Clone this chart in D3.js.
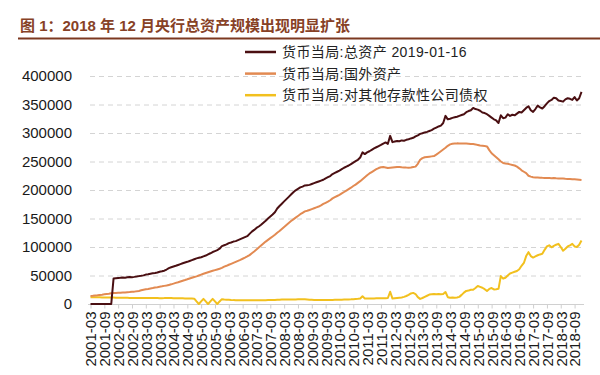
<!DOCTYPE html>
<html>
<head>
<meta charset="utf-8">
<script src="https://cdn.jsdelivr.net/npm/d3@7"></script>
<style>
  body { margin: 0; background: #fff; }
  svg { display: block; }
</style>
</head>
<body>
<svg id="chart" width="600" height="375"></svg>
<script>
var chartTitle = "图 1：2018 年 12 月央行总资产规模出现明显扩张";
var seriesNames = ["货币当局:总资产 2019-01-16", "货币当局:国外资产", "货币当局:对其他存款性公司债权"];
var colors = ["#4a0f12", "#e28a52", "#f2c01e"];

var yTicks = [0, 50000, 100000, 150000, 200000, 250000, 300000, 350000, 400000];

var tickLabels = ["2001-03", "2001-09", "2002-03", "2002-09", "2003-03", "2003-09",
  "2004-03", "2004-09", "2005-03", "2005-09", "2006-03", "2006-09",
  "2007-03", "2007-09", "2008-03", "2008-09", "2009-03", "2009-09",
  "2010-03", "2010-09", "2011-03", "2011-09", "2012-03", "2012-09",
  "2013-03", "2013-09", "2014-03", "2014-09", "2015-03", "2015-09",
  "2016-03", "2016-09", "2017-03", "2017-09", "2018-03", "2018-09"];

// monthly, 2001-03 .. 2018-12 (亿元)
var totalAssets = [
  0, 0, 0, 0, 0, 0, 0, 0, 0, 0,
  44600, 45200, 45600, 45900, 46300, 46100, 46800, 47300, 47100, 47600, 48200, 48900,
  49500, 50200, 51600, 52100, 53000, 53900, 54500, 55200, 56600, 57300, 58400, 60500,
  63000, 64500, 65800, 67000, 68500, 70000, 71500, 72800, 74000, 75500, 77000, 78500,
  80000, 81000, 82000, 83500, 85000, 87000, 89000, 91200, 92800, 94500, 97000, 101500,
  103000, 104500, 106800, 108000, 109500, 110300, 112000, 113800, 115500, 117200, 119000, 123000,
  127000, 130000, 133500, 136000, 139000, 142500, 146000, 150000, 153500, 157000, 161000, 167500,
  172000, 176000, 180000, 184000, 188000, 192000, 196000, 199500, 202000, 204500, 206000, 208000,
  208500, 209000, 210500, 212000, 213500, 215000, 216500, 218000, 220500, 222500, 224500, 228000,
  230000, 232000, 234000, 236500, 239000, 241000, 243000, 245500, 248000, 250500, 253000, 257000,
  266000, 263000, 266000, 268000, 270500, 273000, 275000, 277000, 279000, 281500, 283500, 281000,
  295000, 284000, 285000, 286000, 285500, 287000, 286500, 288000, 289000, 290500, 291500, 294000,
  296000, 298500, 299500, 301000, 302000, 303500, 305000, 307500, 309500, 311500, 313000, 317500,
  330000, 324000, 325000, 326500, 327500, 328500, 330000, 331500, 333000, 336500, 338500, 340000,
  344000, 342000, 341000, 339000, 336000, 335000, 333000, 330000, 327000, 324000, 322000, 317500,
  331000, 326000, 327000, 333000, 330000, 332000, 331000, 334000, 337000, 336000, 340000, 344000,
  347000, 340000, 337000, 342000, 348000, 345000, 343000, 347000, 352000, 356000, 358000, 362000,
  361000, 357000, 356000, 355000, 359000, 361000, 360000, 358000, 363000, 357000, 361000, 372000
];

var foreignAssets = [
  14200, 14600, 15100, 15500, 16000, 16400, 16900, 17400, 17900, 18800,
  19200, 19500, 19700, 19900, 20100, 20300, 20600, 20900, 21300, 21700, 22200, 22900,
  24000, 25000, 25800, 26500, 27300, 28000, 28800, 29500, 30300, 31000, 31800, 32500,
  33500, 34500, 35700, 37000, 38200, 39500, 40800, 42000, 43300, 44700, 46000, 47300,
  48500, 50000, 51500, 53000, 54300, 55600, 56900, 58200, 59400, 60600, 61800, 63300,
  65500, 67000, 68800, 70500, 72300, 74000, 75800, 77500, 79400, 81300, 83400, 85800,
  89000, 92000, 95500, 99000, 102500, 106000, 109500, 112500, 115500, 118500, 121500, 125000,
  128000, 131500, 135000, 138500, 142000, 145500, 148500, 151500, 154500, 157500, 160000, 162500,
  163500, 165000, 166500, 168000, 169500, 171000, 173000, 175500, 177500, 179500, 182000, 185300,
  187500, 189500, 191500, 194000, 196500, 199000, 201500, 204000, 207000, 209500, 212500, 215500,
  219000, 222500, 226000, 229000, 231500, 234000, 236500, 238500, 240000, 240500, 239500, 238500,
  239000, 239500, 240000, 240500, 240300, 239800, 239500, 239300, 239200, 239600, 240300, 241000,
  246000, 253000, 256000, 257500, 258000, 258500, 259000, 259500, 262000, 265000, 268000, 271000,
  274000, 277500, 280000, 281000, 281500, 281800, 281700, 281600, 281500, 281400, 281200, 280800,
  280500, 280000, 279000, 278000, 277500, 277000, 276500, 270000, 264500, 261000, 257500, 254000,
  250000, 247500, 246500, 246000, 245000, 244000, 243000, 241000, 238000, 234500, 232000, 229500,
  225000, 223500, 222500, 222000, 221800, 221500, 221300, 221200, 221000, 220900, 220800, 221000,
  220500, 220300, 220200, 220000, 219700, 219500, 219300, 219000, 218700, 218400, 218000, 217600
];

var claimsOnBanks = [
  12000, 11900, 11800, 11700, 11700, 11600, 11500, 11500, 11400, 11300,
  11200, 11100, 11000, 10900, 10900, 10800, 10800, 10700, 10700, 10600, 10600, 10600,
  10600, 10500, 10500, 10600, 10600, 10500, 10400, 10400, 10300, 10300, 10400, 10600,
  10500, 10400, 10300, 10200, 10100, 10000, 9900, 9800, 9700, 9600, 9500, 9400,
  4500, 0, 4500, 9000, 4500, 0, 4500, 9000, 4500, 0, 4500, 8500,
  8000, 7600, 7300, 7000, 6800, 6700, 6600, 6500, 6500, 6400, 6400, 6500,
  6500, 6400, 6400, 6500, 6500, 6600, 6700, 6800, 6900, 7000, 7200, 7500,
  7600, 7700, 7700, 7800, 7900, 8000, 8100, 8100, 8200, 8300, 8300, 8400,
  8000, 7600, 7400, 7200, 7100, 7000, 7000, 7100, 7200, 7200, 7100, 7200,
  7300, 7400, 7500, 7600, 7700, 7800, 8000, 8200, 8500, 8800, 9100, 9500,
  13500, 9800, 9700, 9600, 9700, 9800, 9900, 10000, 10100, 10200, 10300, 10500,
  21500, 9500, 10000, 10500, 11000, 11500, 12500, 14000, 16000, 18500, 19500, 17500,
  12000, 9000, 10500, 12500, 14500, 16500, 17000, 17500, 17000, 17500, 17000, 17500,
  21000, 12000, 11000, 11500, 11000, 11500, 12500, 16000, 20000, 23000, 23500, 25000,
  25000, 28000, 31500, 30000, 28500, 26000, 23000, 26500, 28000, 25500, 26000, 26600,
  49000, 44500, 46000, 50000, 53500, 55000, 56500, 58000, 61000, 67000, 72000, 84000,
  91000, 84000, 81500, 83500, 85500, 87000, 88000, 95000, 101000, 103000, 99500, 102000,
  104000, 105500, 100000, 93500, 97000, 101000, 103000, 105500, 101000, 100000, 104000, 111500
];

var months = [];
for (var yr = 2001; yr <= 2018; yr++) {
  for (var mo = 1; mo <= 12; mo++) {
    if (yr == 2001 && mo < 3) continue;
    months.push(yr + "-" + (mo < 10 ? "0" + mo : mo));
  }
}

var latin = "'Liberation Sans', Arial, 'Noto Sans CJK SC', sans-serif";
var cjk = "'Liberation Sans', 'Noto Sans CJK SC', sans-serif";

var svg = d3.select("#chart");

// title
svg.append("text")
  .attr("x", 20)
  .attr("y", 31)
  .style("font", "bold 15px " + cjk)
  .style("fill", "#874126")
  .text(chartTitle);

svg.append("line")
  .attr("x1", 18).attr("x2", 600)
  .attr("y1", 38.5).attr("y2", 38.5)
  .style("stroke", "#7c3820")
  .style("stroke-width", 1.8);

var x_scaler = d3.scalePoint()
  .domain(months)
  .range([90.5, 581.5]);

var y_scaler = d3.scaleLinear()
  .domain([0, 400000])
  .range([304, 76]);

// grid
svg.append("g")
  .selectAll("line")
  .data(yTicks.filter(function(d) { return d > 0; }))
  .enter().append("line")
  .attr("x1", 90).attr("x2", 583)
  .attr("y1", function(d) { return y_scaler(d) + 0.5; })
  .attr("y2", function(d) { return y_scaler(d) + 0.5; })
  .style("stroke", "#d4d4d4")
  .style("stroke-dasharray", "5,4");

// y labels
svg.append("g")
  .selectAll("text")
  .data(yTicks)
  .enter().append("text")
  .attr("x", 72)
  .attr("y", function(d) { return y_scaler(d); })
  .attr("dy", "0.36em")
  .style("text-anchor", "end")
  .style("font", "15px " + latin)
  .style("fill", "#1a1a1a")
  .text(function(d) { return d; });

// x axis
var x_axis = svg.append("g")
  .attr("transform", "translate(0,304.5)")
  .call(d3.axisBottom(x_scaler).tickValues(tickLabels).tickSize(4).tickSizeOuter(0));

x_axis.select(".domain").remove();
x_axis.append("line")
  .attr("x1", 88).attr("x2", 584)
  .style("stroke", "#d0d0d0");
x_axis.selectAll(".tick line").style("stroke", "#cfcfcf");
x_axis.selectAll(".tick text")
  .attr("transform", "rotate(-90)")
  .attr("x", -7)
  .attr("y", 0)
  .attr("dy", "0.36em")
  .style("text-anchor", "end")
  .style("font", "15px " + latin)
  .style("fill", "#1a1a1a");

// lines
var line = d3.line()
  .x(function(d, i) { return x_scaler(months[i]); })
  .y(function(d) { return y_scaler(d); });

var series = [totalAssets, foreignAssets, claimsOnBanks];

[2, 1, 0].forEach(function(k) {
  svg.append("path")
    .datum(series[k])
    .attr("d", line)
    .style("fill", "none")
    .style("stroke", colors[k])
    .style("stroke-width", 2)
    .style("stroke-linejoin", "round");
});

// legend
var legend = svg.selectAll(".legend")
  .data(seriesNames)
  .enter().append("g")
  .attr("class", "legend")
  .attr("transform", function(d, i) { return "translate(245," + (52 + i * 21.6) + ")"; });

legend.append("line")
  .attr("x1", 0).attr("x2", 31)
  .style("stroke", function(d, i) { return colors[i]; })
  .style("stroke-width", 2.5);

legend.append("text")
  .attr("x", 37)
  .attr("dy", "0.36em")
  .style("font", "14px " + cjk)
  .style("letter-spacing", "0.4px")
  .style("fill", "#222")
  .text(function(d) { return d; });
</script>
</body>
</html>
